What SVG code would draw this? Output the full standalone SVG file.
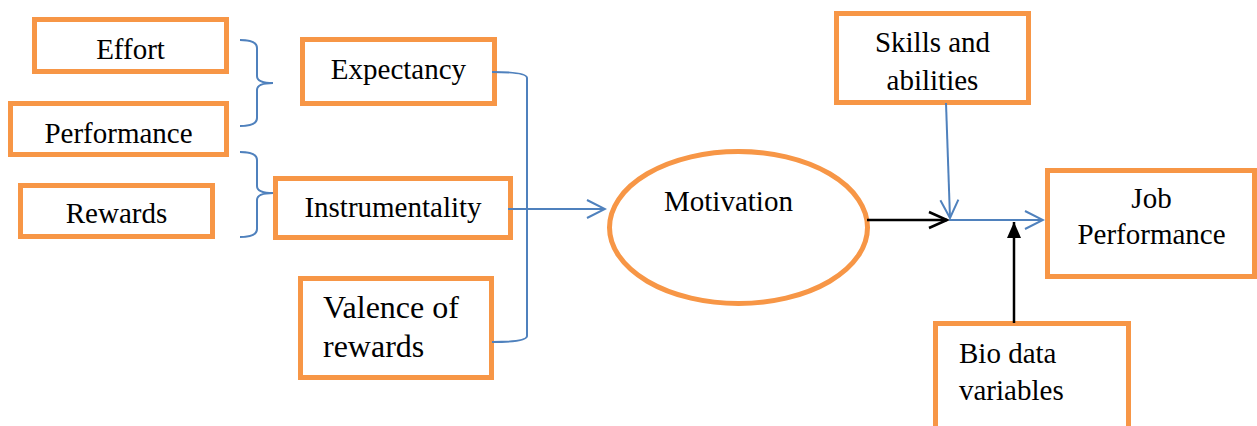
<svg xmlns="http://www.w3.org/2000/svg" width="1257" height="426" viewBox="0 0 1257 426">
<style>
.box{fill:#fff;stroke:#F79646;stroke-width:5}
.t{font-family:'Liberation Serif','DejaVu Serif',serif;font-size:29px;fill:#000}
.c{text-anchor:middle}
.blue{fill:none;stroke:#4F81BD;stroke-width:2}
.black{fill:none;stroke:#000;stroke-width:2.5}
</style>
<defs>
<marker id="openBlue" markerUnits="userSpaceOnUse" viewBox="0 0 22 22" refX="20" refY="11" markerWidth="22" markerHeight="22" orient="auto">
<path d="M2,2 L20,11 L2,20" fill="none" stroke="#4F81BD" stroke-width="2"/>
</marker>
<marker id="openBlack" markerUnits="userSpaceOnUse" viewBox="0 0 22 22" refX="20" refY="11" markerWidth="22" markerHeight="22" orient="auto">
<path d="M2,3 L20,11 L2,19" fill="none" stroke="#000" stroke-width="2.5"/>
</marker>
<marker id="solidBlack" markerUnits="userSpaceOnUse" viewBox="0 0 18 16" refX="17" refY="8" markerWidth="18" markerHeight="16" orient="auto">
<path d="M1,1 L17,8 L1,15 Z" fill="#000"/>
</marker>
</defs>
<g id="effort"><rect class="box" x="34.5" y="19.5" width="192" height="52"/><text class="t c" x="130.5" y="59" font-family="Liberation Serif, serif">Effort</text></g>
<g id="performance"><rect class="box" x="10.5" y="103.5" width="216" height="51"/><text class="t c" x="118.5" y="143">Performance</text></g>
<g id="rewards"><rect class="box" x="20.5" y="185.5" width="192" height="51"/><text class="t c" x="116.5" y="223">Rewards</text></g>
<g id="expectancy"><rect class="box" x="302.5" y="39.5" width="192" height="64"/><text class="t c" x="398.5" y="79">Expectancy</text></g>
<g id="instrumentality"><rect class="box" x="275.5" y="178.5" width="235" height="59"/><text class="t c" x="393" y="217">Instrumentality</text></g>
<g id="valence"><rect class="box" x="300.5" y="278.5" width="191" height="99"/><text class="t" x="323" y="318" style="font-size:32px">Valence of</text><text class="t" x="323" y="357" style="font-size:32px">rewards</text></g>
<g id="motivation"><ellipse cx="738.5" cy="227.5" rx="129" ry="76" fill="#fff" stroke="#F79646" stroke-width="5"/><text class="t" x="664" y="211">Motivation</text></g>
<g id="skills"><rect class="box" x="836.5" y="13.5" width="192" height="89"/><text class="t c" x="932.5" y="52">Skills and</text><text class="t c" x="932.5" y="90">abilities</text></g>
<g id="jobperformance"><rect class="box" x="1047.5" y="170.5" width="207" height="106"/><text class="t c" x="1151.5" y="208">Job</text><text class="t c" x="1151.5" y="244">Performance</text></g>
<g id="biodata"><rect class="box" x="935.5" y="323.5" width="193" height="110"/><text class="t" x="959" y="363">Bio data</text><text class="t" x="959" y="400">variables</text></g>
<g id="connectors">
<path class="blue" d="M240,40 Q257,40 257,48 L257,76 Q257,83 273,83 Q257,83 257,90 L257,118 Q257,126 240,126"/>
<path class="blue" d="M240,152 Q257,152 257,160 L257,186 Q257,193 273,193 Q257,193 257,200 L257,229 Q257,237 240,237"/>
<path class="blue" d="M492,72 Q527,72 527,78 L527,336 Q527,342 492,342"/>
<path class="blue" d="M508,209 L605,209" marker-end="url(#openBlue)"/>
<path class="black" d="M867,220 L947,220" marker-end="url(#openBlack)"/>
<path class="blue" d="M946,103 L950,218" marker-end="url(#openBlue)"/>
<path class="blue" d="M949,220 L1043,220" marker-end="url(#openBlue)"/>
<path class="black" d="M1014,323 L1014,222" marker-end="url(#solidBlack)"/>
</g>
</svg>
